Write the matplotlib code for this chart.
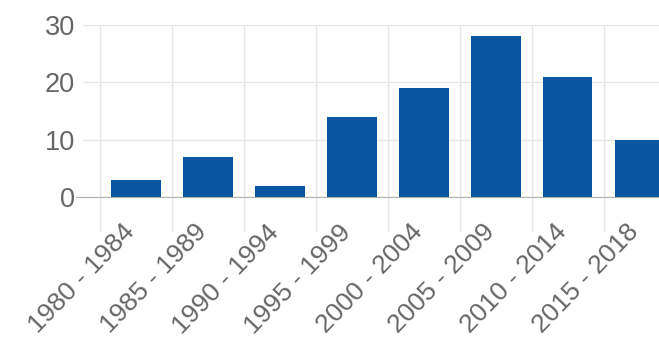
import numpy as np
import matplotlib.pyplot as plt

periods = ["1980 - 1984", "1985 - 1989", "1990 - 1994", "1995 - 1999",
           "2000 - 2004", "2005 - 2009", "2010 - 2014", "2015 - 2018"]
counts = [3, 7, 2, 14, 19, 28, 21, 10]
y_ticks = [0, 10, 20, 30]

plt.rcParams['font.family'] = ['Liberation Sans', 'DejaVu Sans']

fig = plt.figure(figsize=(6.59, 3.49), dpi=100)
W, H = 659, 349
ax = fig.add_axes([83 / W, 1 - 197 / H, 1 - 83 / W, (197 - 25) / H])

x = np.arange(len(periods))
ax.bar(x, counts, width=0.69, color='#0a559f', zorder=3)

ax.set_xlim(-0.74, 7.27)
ax.set_ylim(0, 30)
ax.set_yticks(y_ticks)
ax.set_xticks(x, periods, rotation=46, ha='right', va='baseline', rotation_mode='anchor')
# category boundaries carry the grid lines
ax.set_xticks(np.append(x[:-1] + 0.5, [-0.5]), minor=True)

ax.tick_params(axis='x', which='major', length=0, pad=26, labelsize=19, labelcolor='#666666')
ax.tick_params(axis='x', which='minor', length=25, width=1, color='#e6e6e6')
ax.tick_params(axis='y', length=0, pad=6, labelsize=19.5, labelcolor='#666666')

ax.grid(axis='y', color='#e6e6e6', linewidth=1, zorder=0)
ax.grid(axis='x', which='minor', color='#e6e6e6', linewidth=1, zorder=0)
ax.grid(axis='x', which='major', visible=False)

for s in ['top', 'right', 'left']:
    ax.spines[s].set_visible(False)
ax.spines['bottom'].set_color('#b0b0b0')
ax.spines['bottom'].set_zorder(4)
# axis line sticks out a little to the left of the plot
ax.plot([-0.013, 0], [0, 0], transform=ax.transAxes, color='#b0b0b0',
        linewidth=0.8, clip_on=False)

fig.savefig('out.png', dpi=100)
